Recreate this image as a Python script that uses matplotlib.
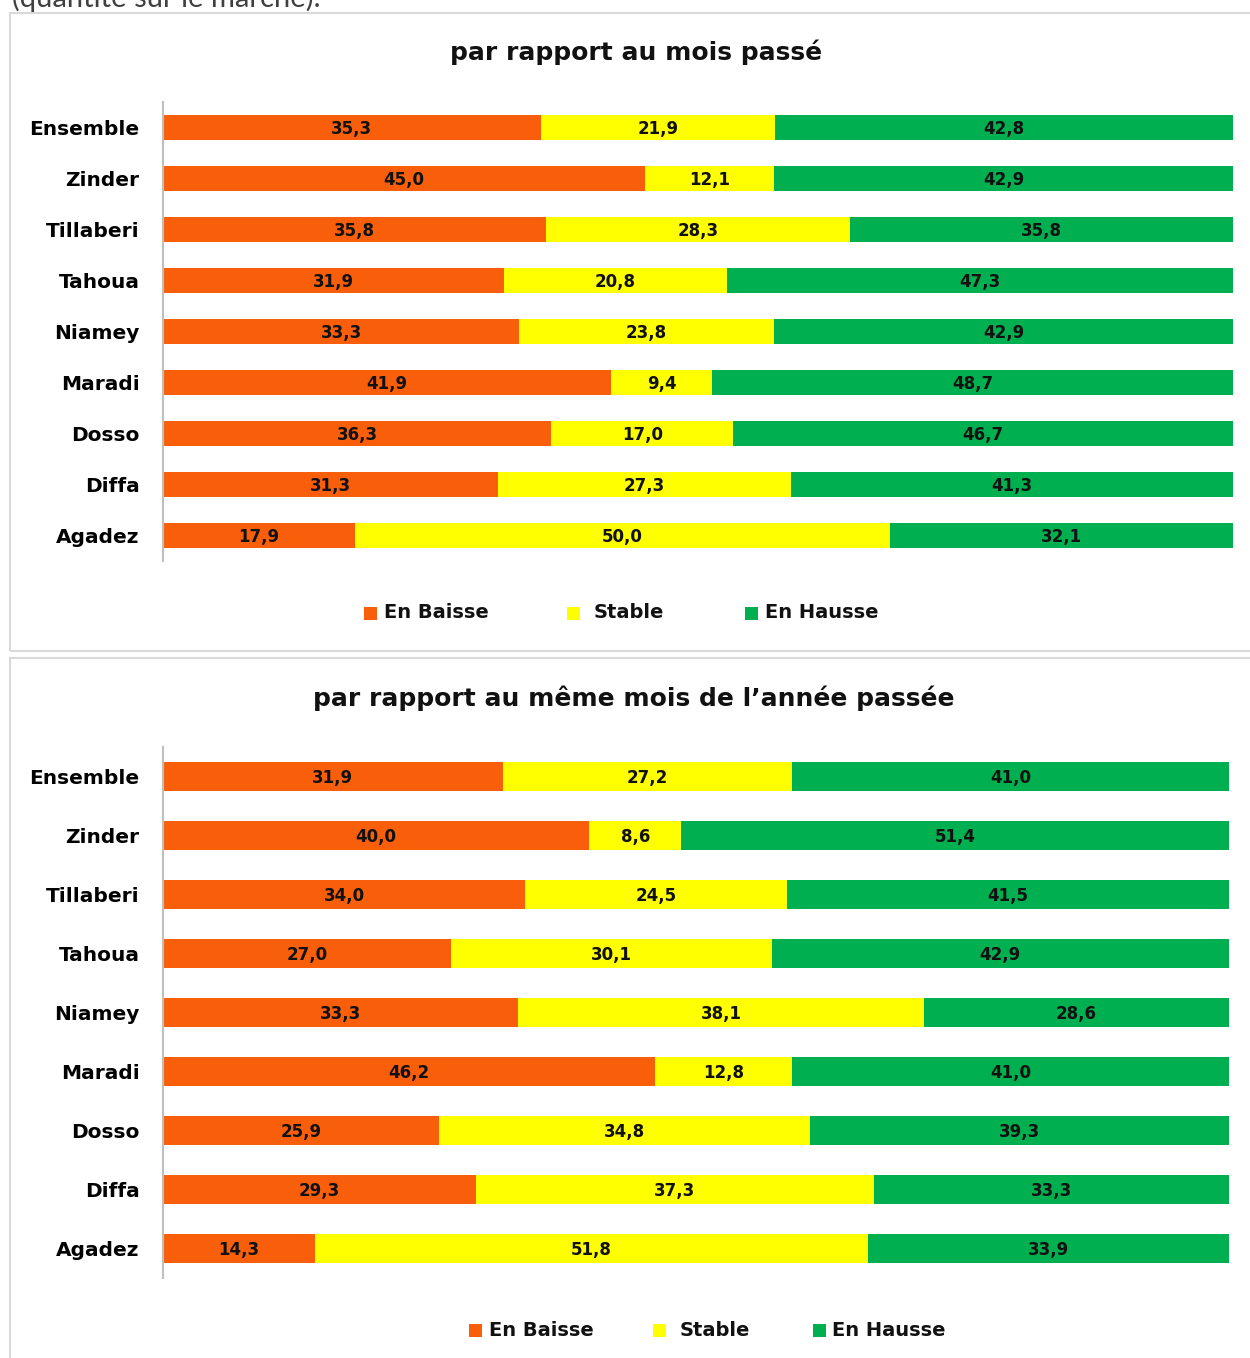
import matplotlib
matplotlib.use("Agg")
import matplotlib.pyplot as plt
from matplotlib.patches import Rectangle
import numpy as np

plt.rcParams['font.family'] = ['DejaVu Sans']

categories = ["Ensemble", "Zinder", "Tillaberi", "Tahoua", "Niamey",
              "Maradi", "Dosso", "Diffa", "Agadez"]
series_names = ["En Baisse", "Stable", "En Hausse"]
colors = ["#F95F0B", "#FFFF00", "#00B050"]

title1 = "par rapport au mois passé"
baisse1 = [35.3, 45.0, 35.8, 31.9, 33.3, 41.9, 36.3, 31.3, 17.9]
stable1 = [21.9, 12.1, 28.3, 20.8, 23.8, 9.4, 17.0, 27.3, 50.0]
hausse1 = [42.8, 42.9, 35.8, 47.3, 42.9, 48.7, 46.7, 41.3, 32.1]

title2 = "par rapport au même mois de l’année passée"
baisse2 = [31.9, 40.0, 34.0, 27.0, 33.3, 46.2, 25.9, 29.3, 14.3]
stable2 = [27.2, 8.6, 24.5, 30.1, 38.1, 12.8, 34.8, 37.3, 51.8]
hausse2 = [41.0, 51.4, 41.5, 42.9, 28.6, 41.0, 39.3, 33.3, 33.9]

W, H = 1250, 1358
fig = plt.figure(figsize=(W / 100, H / 100), dpi=100)

def fx(px):
    return px / W

def fy(py):
    return 1 - py / H

# clipped heading text at the very top (cut off in the reference too)
fig.text(fx(12), fy(7), "(quantité sur le marché).", fontsize=21,
         color="#404040", ha="left", va="baseline", family="Lato")

# panel borders
fig.patches.append(Rectangle((fx(10), fy(651)), fx(1262) - fx(10), fy(13) - fy(651),
                             transform=fig.transFigure, fill=False,
                             edgecolor="#D9D9D9", linewidth=1.5))
fig.patches.append(Rectangle((fx(10), fy(1375)), fx(1262) - fx(10), fy(658) - fy(1375),
                             transform=fig.transFigure, fill=False,
                             edgecolor="#D9D9D9", linewidth=1.5))


def panel(left, right, top, bottom, data, title, title_y, title_x, leg_y, leg_items):
    ax = fig.add_axes([fx(left), fy(bottom), fx(right) - fx(left), fy(top) - fy(bottom)])
    arr = np.array(data, dtype=float)  # shape (3, n)
    totals = arr.sum(axis=0)
    pct = arr / totals * 100
    y = np.arange(len(categories))
    lefts = np.zeros(len(categories))
    for i in range(3):
        ax.barh(y, pct[i], left=lefts, height=0.5, color=colors[i], edgecolor="none")
        for j in range(len(categories)):
            ax.text(lefts[j] + pct[i][j] / 2, y[j] + 0.02,
                    f"{arr[i][j]:.1f}".replace(".", ","),
                    ha="center", va="center", fontsize=12, fontweight="bold",
                    color="#111111")
        lefts += pct[i]
    ax.set_xlim(0, 100)
    ax.set_ylim(len(categories) - 0.5, -0.5)
    ax.set_yticks(y)
    ax.set_yticklabels(categories, fontsize=14.5, fontweight="bold")
    ax.tick_params(axis="y", length=0, pad=17)
    ax.set_xticks([])
    for s in ["top", "right", "bottom"]:
        ax.spines[s].set_visible(False)
    ax.spines["left"].set_color("#BFBFBF")
    ax.spines["left"].set_linewidth(1.5)
    fig.text(fx(title_x), fy(title_y), title, ha="center", va="center",
             fontsize=18, fontweight="bold", color="#111111")
    for (sq_x, tx_x), name, c in zip(leg_items, series_names, colors):
        fig.patches.append(Rectangle((fx(sq_x), fy(leg_y + 7)), fx(13), 13 / H,
                                     transform=fig.transFigure, facecolor=c,
                                     edgecolor="none"))
        fig.text(fx(tx_x), fy(leg_y), name, ha="left", va="center",
                 fontsize=14, fontweight="bold", color="#111111")
    return ax


panel(163, 1233, 102, 561, [baisse1, stable1, hausse1], title1, 52, 636, 613,
      [(364, 384), (567, 594), (745, 765)])
panel(163, 1229, 747, 1278, [baisse2, stable2, hausse2], title2, 698, 634, 1330,
      [(469, 489), (653, 680), (813, 832)])

fig.savefig("out.png", dpi=100, facecolor="white")
